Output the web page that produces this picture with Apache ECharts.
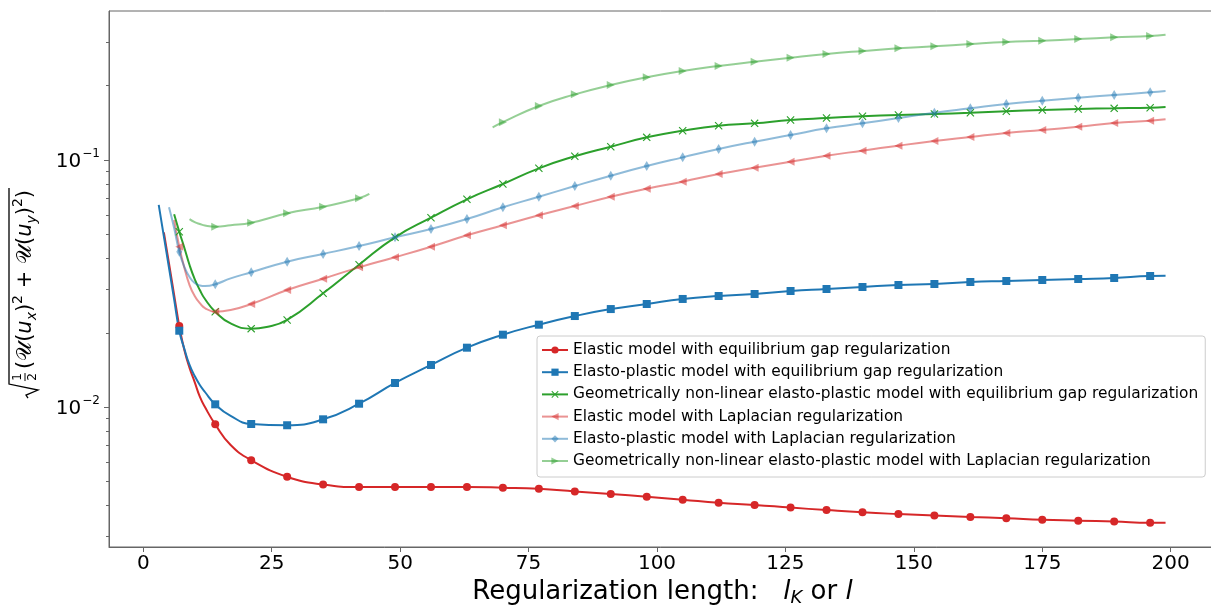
<!DOCTYPE html>
<html>
<head>
<meta charset="utf-8">
<script src="https://cdn.jsdelivr.net/npm/echarts@6/dist/echarts.min.js"></script>
<style>html,body{margin:0;padding:0;background:#fff}#chart{width:1211px;height:606px}</style>
</head>
<body>
<div id="chart"></div>
<script>
// ---------------- data ----------------
const seriesNames = [
  'Elastic model with equilibrium gap regularization',
  'Elasto-plastic model with equilibrium gap regularization',
  'Geometrically non-linear elasto-plastic model with equilibrium gap regularization',
  'Elastic model with Laplacian regularization',
  'Elasto-plastic model with Laplacian regularization',
  'Geometrically non-linear elasto-plastic model with Laplacian regularization'
];
const xTicks = [0, 25, 50, 75, 100, 125, 150, 175, 200];
const yMajorTicks = [0.01, 0.1];
const yMinorTicks = [0.003, 0.004, 0.005, 0.006, 0.007, 0.008, 0.009,
                     0.02, 0.03, 0.04, 0.05, 0.06, 0.07, 0.08, 0.09, 0.2, 0.3];

const xRed = [4, 5, 6, 7, 8, 9, 10, 11, 12, 14, 17, 21, 28, 35, 42, 49, 56, 63, 70, 77, 84, 91, 98, 105, 112, 119, 126, 133, 140, 147, 154, 161, 168, 175, 182, 189, 196, 199];
const yRed = [0.0510, 0.0382, 0.0285, 0.0213, 0.0170, 0.01442, 0.01265, 0.01104, 0.01002, 0.00853, 0.00704, 0.00611, 0.00524, 0.00487, 0.00476, 0.00476, 0.00476, 0.00476, 0.00473, 0.00468, 0.00457, 0.00446, 0.00435, 0.00423, 0.00411, 0.00403, 0.00393, 0.00384, 0.00376, 0.00370, 0.00365, 0.00360, 0.00356, 0.00351, 0.00348, 0.00345, 0.00341, 0.00341];

const xBlue = [3, 4, 5, 6, 7, 8, 9, 10, 11, 12, 14, 17, 21, 28, 35, 42, 49, 56, 63, 70, 77, 84, 91, 98, 105, 112, 119, 126, 133, 140, 147, 154, 161, 168, 175, 182, 189, 196, 199];
const yBlue = [0.0658, 0.0491, 0.0366, 0.02733, 0.0204, 0.0172, 0.01483, 0.01339, 0.01231, 0.01153, 0.01028, 0.00923, 0.00856, 0.00846, 0.00894, 0.01034, 0.01254, 0.01483, 0.01742, 0.01966, 0.02158, 0.02339, 0.02496, 0.02617, 0.02742, 0.02818, 0.02871, 0.02953, 0.03008, 0.03065, 0.03123, 0.03152, 0.03211, 0.03241, 0.03271, 0.03302, 0.03333, 0.03396, 0.0340];

const xGreen = [6, 7, 8, 9, 10, 11, 12, 14, 17, 21, 24, 28, 35, 42, 49, 56, 63, 70, 77, 84, 91, 98, 105, 112, 119, 126, 133, 140, 147, 154, 161, 168, 175, 182, 189, 196, 199];
const yGreen = [0.0603, 0.0513, 0.0441, 0.0376, 0.0330, 0.0298, 0.0274, 0.02435, 0.02183, 0.0208, 0.02113, 0.02255, 0.0289, 0.03772, 0.04868, 0.05844, 0.06937, 0.07998, 0.09256, 0.1035, 0.1132, 0.1235, 0.1314, 0.1376, 0.1407, 0.1451, 0.1478, 0.1502, 0.1520, 0.1535, 0.1553, 0.1574, 0.1593, 0.1608, 0.1618, 0.1627, 0.1638];

const xPink = [6, 7, 8, 9, 10, 11, 12, 14, 17, 21, 28, 35, 42, 49, 56, 63, 70, 77, 84, 91, 98, 105, 112, 119, 126, 133, 140, 147, 154, 161, 168, 175, 182, 189, 196, 199];
const yPink = [0.0572, 0.0446, 0.0366, 0.0312, 0.0282, 0.0264, 0.0252, 0.02435, 0.02474, 0.02617, 0.02979, 0.0331, 0.0368, 0.04043, 0.04461, 0.04960, 0.05445, 0.05975, 0.06516, 0.07106, 0.07656, 0.08175, 0.08779, 0.09308, 0.09843, 0.1041, 0.1091, 0.1143, 0.1193, 0.1239, 0.1286, 0.1322, 0.1363, 0.1411, 0.1442, 0.1461];

const xLightBlue = [5, 6, 7, 8, 9, 10, 11, 12, 14, 17, 21, 28, 35, 42, 49, 56, 63, 70, 77, 84, 91, 98, 105, 112, 119, 126, 133, 140, 147, 154, 161, 168, 175, 182, 189, 196, 199];
const yLightBlue = [0.0644, 0.0531, 0.0426, 0.0369, 0.03365, 0.0318, 0.0311, 0.03094, 0.03143, 0.0332, 0.03515, 0.0388, 0.04169, 0.0449, 0.04868, 0.0526, 0.05771, 0.06437, 0.07105, 0.07849, 0.08641, 0.09456, 0.1025, 0.1108, 0.1186, 0.1262, 0.1343, 0.1407, 0.1478, 0.1553, 0.1618, 0.1684, 0.1737, 0.1786, 0.1831, 0.1878, 0.1901];

const xLightGreen = [9, 10, 11, 12, 14, 17, 21, 28, 35, 42, 44, 56, 68, 70, 77, 84, 91, 98, 105, 112, 119, 126, 133, 140, 147, 154, 161, 168, 175, 182, 189, 196, 199];
const yLightGreen = [0.0577, 0.0561, 0.0551, 0.0543, 0.05373, 0.05445, 0.05578, 0.06087, 0.06474, 0.0700, 0.07288, null, 0.1356, 0.1422, 0.1654, 0.1843, 0.2010, 0.2160, 0.2291, 0.2399, 0.2497, 0.2592, 0.2683, 0.2759, 0.2829, 0.2882, 0.2944, 0.3000, 0.3036, 0.3084, 0.3133, 0.3172, 0.3210];

// ---------------- chart ----------------
const FONT = '"DejaVu Sans", sans-serif';
const X_MIN = -6.68, X_MAX = 208.8;
const Y_MIN = 0.0027228, Y_MAX = 0.40047;
const AXIS_COLOR = '#666';
const X_SYMBOL = 'path://M0,1L1,0L5,4L9,0L10,1L6,5L10,9L9,10L5,6L1,10L0,9L4,5Z';

function mk(name, xs, ys, color, symbol, size, rotate) {
  return {
    name: name,
    type: 'line',
    data: xs.map((x, i) => [x, ys[i] == null ? '-' : ys[i]]),
    smooth: 0.5,
    showSymbol: true,
    showAllSymbol: true,
    symbol: symbol,
    symbolRotate: rotate,
    symbolSize: (v) => (v[0] % 7 === 0 ? size : 0),
    lineStyle: { color: color, width: 2 },
    itemStyle: { color: color },
    emphasis: { disabled: true },
    animation: false
  };
}

const series = [
  mk(seriesNames[0], xRed, yRed, '#d62728', 'circle', 8, 0),
  mk(seriesNames[1], xBlue, yBlue, '#1f77b4', 'rect', 8, 0),
  mk(seriesNames[2], xGreen, yGreen, '#2ca02c', X_SYMBOL, 8, 0),
  mk(seriesNames[3], xPink, yPink, 'rgba(214,39,40,0.5)', 'triangle', 8, 90),
  mk(seriesNames[4], xLightBlue, yLightBlue, 'rgba(31,119,180,0.5)', 'diamond', [6, 10], 0),
  mk(seriesNames[5], xLightGreen, yLightGreen, 'rgba(44,160,44,0.5)', 'triangle', 8, -90)
];

function yLabelChildren() {
  const ctx = document.createElement('canvas').getContext('2d');
  const meas = (t, size, italic) => { ctx.font = (italic ? 'italic ' : '') + size + 'px ' + FONT; return ctx.measureText(t).width; };
  const M = 21, S = 14;
  const toks = [
    ['(', M, false, 0], ['\u{1D4B0}', M, false, 0], ['(', M, false, 0], ['u', M, true, 0], ['x', S, true, 6],
    [')', M, false, 0], ['2', S, false, -8], [' + ', M, false, 0], ['\u{1D4B0}', M, false, 0], ['(', M, false, 0],
    ['u', M, true, 0], ['y', S, true, 6], [')', M, false, 0], ['2', S, false, -8], [')', M, false, 0]
  ];
  const radW = 16, fracW = 13;
  let textW = 0;
  toks.forEach(t => { textW += meas(t[0], t[1], t[2]); });
  const W = radW + fracW + textW;
  let x = -W / 2;
  const ch = [];
  const top = -17;
  ch.push({ type: 'polyline', shape: { points: [[x, 2], [x + 3, 0], [x + 8, 12], [x + 14, top], [W / 2 + 2, top]] },
            style: { stroke: '#000', lineWidth: 1.3, fill: null } });
  x += radW;
  const fc = x + 5;
  ch.push({ type: 'text', style: { text: '1', x: fc, y: -8, font: '12px ' + FONT, fill: '#000', align: 'center', textAlign: 'center', verticalAlign: 'middle', textVerticalAlign: 'middle' } });
  ch.push({ type: 'line', shape: { x1: fc - 4, y1: -1, x2: fc + 4, y2: -1 }, style: { stroke: '#000', lineWidth: 1 } });
  ch.push({ type: 'text', style: { text: '2', x: fc, y: 7, font: '12px ' + FONT, fill: '#000', align: 'center', textAlign: 'center', verticalAlign: 'middle', textVerticalAlign: 'middle' } });
  x += fracW;
  toks.forEach(t => {
    ch.push({ type: 'text', style: { text: t[0], x: x, y: t[3], font: (t[2] ? 'italic ' : '') + t[1] + 'px ' + FONT, fill: '#000',
      align: 'left', textAlign: 'left', verticalAlign: 'middle', textVerticalAlign: 'middle' } });
    x += meas(t[0], t[1], t[2]);
  });
  return ch;
}

const option = {
  animation: false,
  backgroundColor: '#fff',
  textStyle: { fontFamily: FONT },
  grid: { left: 109, right: -4.9, top: 11, bottom: 59, outerBoundsMode: 'none', containLabel: false,
          show: true, borderColor: AXIS_COLOR, borderWidth: 1, backgroundColor: 'transparent' },
  legend: {
    show: true,
    data: seriesNames,
    orient: 'vertical',
    left: 537, top: 336,
    padding: [6, 7, 8, 4],
    itemWidth: 26, itemHeight: 9, itemGap: 6.2,
    backgroundColor: 'rgba(255,255,255,0.8)',
    borderColor: '#cccccc', borderWidth: 1, borderRadius: 3,
    textStyle: { fontSize: 15.4, fontFamily: FONT, color: '#000', lineHeight: 16 },
    selectedMode: false
  },
  xAxis: {
    type: 'value', min: X_MIN, max: X_MAX,
    axisLine: { show: true, onZero: false, lineStyle: { color: AXIS_COLOR, width: 1 } },
    axisTick: { show: true, customValues: xTicks, length: 5, lineStyle: { color: AXIS_COLOR } },
    axisLabel: { show: true, customValues: xTicks, fontSize: 20, color: '#000', fontFamily: FONT, margin: 7 },
    splitLine: { show: false },
    name: 'Regularization length:   {i|l}{k|K} or {i|l}',
    nameLocation: 'middle', nameGap: 25,
    nameTextStyle: { fontSize: 26, color: '#000', fontFamily: FONT,
      rich: { i: { fontSize: 26, fontStyle: 'italic', fontFamily: FONT, color: '#000' },
              k: { fontSize: 18, fontStyle: 'italic', fontFamily: FONT, color: '#000', padding: [12, 0, 0, 0] } } }
  },
  yAxis: [
    {
      type: 'log', logBase: 10, min: Y_MIN, max: Y_MAX, position: 'left',
      axisLine: { show: true, onZero: false, lineStyle: { color: AXIS_COLOR, width: 1 } },
      axisTick: { show: true, customValues: yMajorTicks, length: 5, lineStyle: { color: AXIS_COLOR } },
      axisLabel: {
        show: true, customValues: yMajorTicks, margin: 9, color: '#000',
        formatter: (v) => '{b|10}{s|\u2212' + Math.round(-Math.log10(v)) + '}',
        rich: { b: { fontSize: 20, fontFamily: FONT, color: '#000', padding: [4, 0, 0, 0] },
                s: { fontSize: 12, fontFamily: FONT, color: '#000', padding: [0, 0, 12, 1] } }
      },
      splitLine: { show: false }
    },
    {
      type: 'log', logBase: 10, min: Y_MIN, max: Y_MAX, position: 'left',
      axisLine: { show: false, onZero: false },
      axisTick: { show: true, customValues: yMinorTicks, length: 3, lineStyle: { color: AXIS_COLOR } },
      axisLabel: { show: false },
      splitLine: { show: false }
    }
  ],
  graphic: [
    { type: 'group', x: 26, y: 294, rotation: Math.PI / 2, children: yLabelChildren() }
  ],
  series: series
};

const chart = echarts.init(document.getElementById('chart'), null, { renderer: 'canvas' });
chart.setOption(option);
</script>
</body>
</html>
